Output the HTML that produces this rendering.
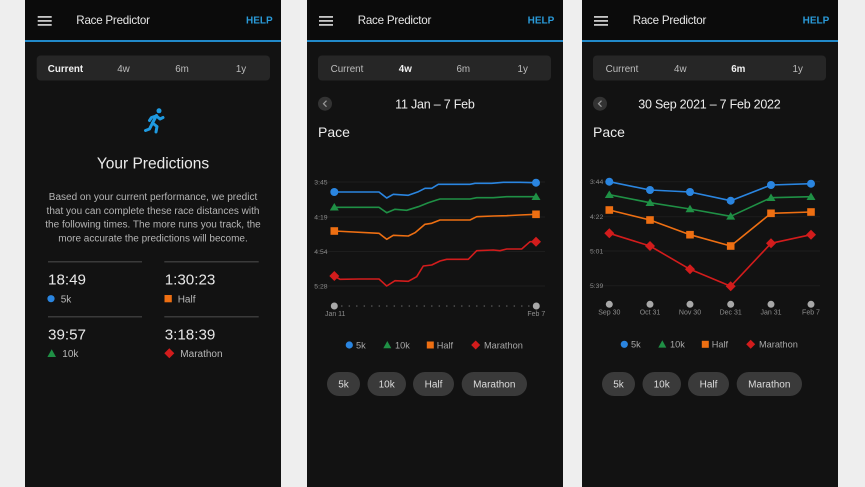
<!DOCTYPE html>
<html><head><meta charset="utf-8"><style>
html,body{margin:0;padding:0;background:#eeeeee;}
svg{display:block;font-family:"Liberation Sans",sans-serif;}
</style></head><body>
<svg width="865" height="487" viewBox="0 0 865 487" xmlns="http://www.w3.org/2000/svg">
<rect width="865" height="487" fill="#eeeeee"/>

<!-- ============ PHONE 1 ============ -->
<rect x="25" y="0" width="256" height="487" fill="#121212"/>
<rect x="25" y="0" width="256" height="40" fill="#0b0b0b"/>
<rect x="25" y="40" width="256" height="2" fill="#2189c9"/>
<g fill="#c8c8c8"><rect x="37.7" y="16" width="14" height="1.8"/><rect x="37.7" y="20" width="14" height="1.8"/><rect x="37.7" y="24" width="14" height="1.8"/></g>
<text x="76.3" y="24" font-size="11.6" fill="#e6e6e6" textLength="73.7">Race Predictor</text>
<text x="272.7" y="23.5" font-size="10" font-weight="bold" fill="#2a9ad8" text-anchor="end">HELP</text>
<rect x="36.7" y="55.5" width="233.3" height="25" rx="4" fill="#262626"/>
<g font-size="9.8" text-anchor="middle" fill="#bdbdbd">
<text x="65.5" y="72" font-weight="bold" fill="#f0f0f0">Current</text>
<text x="123.5" y="72">4w</text><text x="182" y="72">6m</text><text x="241" y="72">1y</text></g>
<!-- runner -->
<g stroke="#1f9ae0" stroke-width="3" stroke-linecap="round" stroke-linejoin="round" fill="none">
<line x1="156.5" y1="115.5" x2="152.5" y2="123"/>
<polyline points="156,116 151.5,117.5 149.5,120.5"/>
<polyline points="156.5,116 160,119 163,117.5"/>
<polyline points="152.5,123 157,126.5 156,132"/>
<polyline points="152.5,123 149.5,129 145.5,130.5"/>
</g>
<circle cx="159" cy="110.8" r="2.5" fill="#1f9ae0"/>
<text x="153" y="168.5" font-size="15.5" fill="#ececec" text-anchor="middle">Your Predictions</text>
<g font-size="10" fill="#b5b5b5" text-anchor="middle">
<text x="153" y="200">Based on your current performance, we predict</text>
<text x="153" y="214">that you can complete these race distances with</text>
<text x="153" y="227.5">the following times. The more runs you track, the</text>
<text x="153" y="241.5">more accurate the predictions will become.</text></g>
<g fill="#3a3a3a"><rect x="48" y="261" width="94" height="1.5"/><rect x="164.3" y="261" width="94.4" height="1.5"/>
<rect x="48" y="316" width="94" height="1.5"/><rect x="164.3" y="316" width="94.4" height="1.5"/></g>
<g font-size="15.2" fill="#e8e8e8">
<text x="48" y="284.5">18:49</text><text x="164.7" y="284.5">1:30:23</text>
<text x="48" y="339.5">39:57</text><text x="164.7" y="339.5">3:18:39</text></g>
<g font-size="10" fill="#b8b8b8">
<text x="60.7" y="302.3">5k</text><text x="177.7" y="302.3">Half</text>
<text x="62.3" y="357">10k</text><text x="180.3" y="357">Marathon</text></g>
<circle cx="51" cy="298.7" r="3.6" fill="#2a85e0"/>
<rect x="164.5" y="295" width="7.3" height="7.3" fill="#ee6f12"/>
<polygon points="51.7,349.3 56,357 47.4,357" fill="#1f9045"/>
<polygon points="169.3,348.3 174.3,353.3 169.3,358.3 164.3,353.3" fill="#d21c1c"/>

<!-- ============ PHONE 2 ============ -->
<rect x="307" y="0" width="256" height="487" fill="#121212"/>
<rect x="307" y="0" width="256" height="40" fill="#0b0b0b"/>
<rect x="307" y="40" width="256" height="2" fill="#2189c9"/>
<g fill="#c8c8c8"><rect x="319" y="16" width="14" height="1.8"/><rect x="319" y="20" width="14" height="1.8"/><rect x="319" y="24" width="14" height="1.8"/></g>
<text x="357.7" y="24" font-size="11.6" fill="#e6e6e6" textLength="73.7">Race Predictor</text>
<text x="554.3" y="23.5" font-size="10" font-weight="bold" fill="#2a9ad8" text-anchor="end">HELP</text>
<rect x="318" y="55.5" width="233" height="25" rx="4" fill="#262626"/>
<g font-size="9.8" text-anchor="middle" fill="#bdbdbd">
<text x="347" y="72">Current</text>
<text x="405.3" y="72" font-weight="bold" fill="#f0f0f0">4w</text><text x="463.3" y="72">6m</text><text x="522.7" y="72">1y</text></g>
<circle cx="325" cy="103.7" r="7" fill="#333"/>
<polyline points="326.5,100.7 323.5,103.7 326.5,106.7" fill="none" stroke="#999" stroke-width="1.2"/>
<text x="435" y="108.3" font-size="12.5" fill="#ececec" text-anchor="middle" textLength="79.7">11 Jan – 7 Feb</text>
<text x="318" y="137" font-size="14" fill="#ececec">Pace</text>
<g stroke="#1d1d1d" stroke-width="1"><line x1="314" y1="182" x2="545" y2="182"/><line x1="314" y1="217" x2="545" y2="217"/><line x1="314" y1="251.5" x2="545" y2="251.5"/><line x1="314" y1="286" x2="545" y2="286"/></g>
<g font-size="6.8" fill="#8a8a8a">
<text x="314.3" y="184.5">3:45</text><text x="314.3" y="219.5">4:19</text><text x="314.3" y="254">4:54</text><text x="314.3" y="288.5">5:28</text></g>
<g fill="none" stroke-width="1.6" stroke-linejoin="round">
<polyline stroke="#2a85e0" points="334.3,192 379,192 386.7,198 393.3,194.3 408.3,195.3 418.3,191.7 425,188.3 431.7,188.3 438.3,184.3 470,184.3 475,183.3 491.7,183.3 503.3,182.3 520,182.3 536,182.7"/>
<polyline stroke="#1f9045" points="334.3,207.3 379,207.3 386.7,212.7 395,209.3 406.7,210.3 418.3,206.7 428.3,202.7 436.7,200 440,199 470,199 476.7,197.7 493.3,197.7 506.7,196.7 520,196.7 536,196.7"/>
<polyline stroke="#ee6f12" points="334.3,231 379,233.3 386.7,239.3 393.3,235.3 408.3,236 415,232.7 425,224.3 431.7,223.3 440,220 470,220 476.7,216.7 493.3,216 506.7,215.7 520,215 536,214.3"/>
<polyline stroke="#d21c1c" points="334.3,276 340,279.3 360,279 379,279 386.7,286 395,280.7 408.3,281.3 416.7,276.7 423.3,266 431.7,265 440,261 446.7,259.3 468.3,259.3 476.7,250.7 493.3,250 500,250.7 506.7,249 521.7,249 530,241.7 536,241.7"/>
</g>
<circle cx="334.3" cy="192" r="4" fill="#2a85e0"/><circle cx="536" cy="182.7" r="4" fill="#2a85e0"/>
<polygon points="334.3,203 338.8,210.5 329.8,210.5" fill="#1f9045"/><polygon points="536,192.5 540.5,200 531.5,200" fill="#1f9045"/>
<rect x="330.5" y="227.2" width="7.6" height="7.6" fill="#ee6f12"/><rect x="532.2" y="210.5" width="7.6" height="7.6" fill="#ee6f12"/>
<polygon points="334.3,271 339.3,276 334.3,281 329.3,276" fill="#d21c1c"/><polygon points="536,236.7 541,241.7 536,246.7 531,241.7" fill="#d21c1c"/>
<!-- x axis -->
<g fill="#5a5a5a">
<circle cx="341.8" cy="306" r="0.8"/><circle cx="349.3" cy="306" r="0.8"/><circle cx="356.8" cy="306" r="0.8"/><circle cx="364.3" cy="306" r="0.8"/><circle cx="371.8" cy="306" r="0.8"/><circle cx="379.3" cy="306" r="0.8"/><circle cx="386.8" cy="306" r="0.8"/><circle cx="394.3" cy="306" r="0.8"/><circle cx="401.8" cy="306" r="0.8"/><circle cx="409.3" cy="306" r="0.8"/><circle cx="416.8" cy="306" r="0.8"/><circle cx="424.3" cy="306" r="0.8"/><circle cx="431.8" cy="306" r="0.8"/><circle cx="439.3" cy="306" r="0.8"/><circle cx="446.8" cy="306" r="0.8"/><circle cx="454.3" cy="306" r="0.8"/><circle cx="461.8" cy="306" r="0.8"/><circle cx="469.3" cy="306" r="0.8"/><circle cx="476.8" cy="306" r="0.8"/><circle cx="484.3" cy="306" r="0.8"/><circle cx="491.8" cy="306" r="0.8"/><circle cx="499.3" cy="306" r="0.8"/><circle cx="506.8" cy="306" r="0.8"/><circle cx="514.3" cy="306" r="0.8"/><circle cx="521.8" cy="306" r="0.8"/><circle cx="528.8" cy="306" r="0.8"/></g>
<circle cx="334.3" cy="306" r="3.5" fill="#a8a8a8"/><circle cx="536.3" cy="306" r="3.5" fill="#a8a8a8"/>
<g font-size="7" fill="#8c8c8c" text-anchor="middle"><text x="335.2" y="315.8">Jan 11</text><text x="536.3" y="315.8">Feb 7</text></g>
<!-- legend -->
<circle cx="349.3" cy="345" r="3.6" fill="#2a85e0"/>
<polygon points="387.3,341 391.3,348.3 383.3,348.3" fill="#1f9045"/>
<rect x="426.8" y="341.5" width="7" height="7" fill="#ee6f12"/>
<polygon points="475.7,340.5 480.2,345 475.7,349.5 471.2,345" fill="#d21c1c"/>
<g font-size="9.2" fill="#a8a8a8"><text x="356" y="348.3">5k</text><text x="395" y="348.3">10k</text><text x="436.7" y="348.3">Half</text><text x="484" y="348.3">Marathon</text></g>
<!-- buttons -->
<g fill="#3a3a3a"><rect x="327" y="372" width="33" height="24" rx="12"/><rect x="367.5" y="372" width="38.5" height="24" rx="12"/><rect x="413" y="372" width="41" height="24" rx="12"/><rect x="461.7" y="372" width="65.3" height="24" rx="12"/></g>
<g font-size="10" fill="#dcdcdc" text-anchor="middle"><text x="343.5" y="387.5">5k</text><text x="386.7" y="387.5">10k</text><text x="433.5" y="387.5">Half</text><text x="494.3" y="387.5">Marathon</text></g>

<!-- ============ PHONE 3 ============ -->
<rect x="582" y="0" width="256" height="487" fill="#121212"/>
<rect x="582" y="0" width="256" height="40" fill="#0b0b0b"/>
<rect x="582" y="40" width="256" height="2" fill="#2189c9"/>
<g fill="#c8c8c8"><rect x="594" y="16" width="14" height="1.8"/><rect x="594" y="20" width="14" height="1.8"/><rect x="594" y="24" width="14" height="1.8"/></g>
<text x="632.7" y="24" font-size="11.6" fill="#e6e6e6" textLength="73.7">Race Predictor</text>
<text x="829.3" y="23.5" font-size="10" font-weight="bold" fill="#2a9ad8" text-anchor="end">HELP</text>
<rect x="593" y="55.5" width="233" height="25" rx="4" fill="#262626"/>
<g font-size="9.8" text-anchor="middle" fill="#bdbdbd">
<text x="622" y="72">Current</text>
<text x="680.3" y="72">4w</text><text x="738.3" y="72" font-weight="bold" fill="#f0f0f0">6m</text><text x="797.7" y="72">1y</text></g>
<circle cx="600" cy="103.7" r="7" fill="#333"/>
<polyline points="601.5,100.7 598.5,103.7 601.5,106.7" fill="none" stroke="#999" stroke-width="1.2"/>
<text x="709.5" y="108.3" font-size="12.5" fill="#ececec" text-anchor="middle" textLength="142.4">30 Sep 2021 – 7 Feb 2022</text>
<text x="593" y="137" font-size="14" fill="#ececec">Pace</text>
<g stroke="#1d1d1d" stroke-width="1"><line x1="589" y1="181.7" x2="820" y2="181.7"/><line x1="589" y1="216.7" x2="820" y2="216.7"/><line x1="589" y1="251" x2="820" y2="251"/><line x1="589" y1="285.7" x2="820" y2="285.7"/></g>
<g font-size="6.8" fill="#8a8a8a">
<text x="590" y="184.2">3:44</text><text x="590" y="219.2">4:22</text><text x="590" y="253.5">5:01</text><text x="590" y="288.2">5:39</text></g>
<g fill="none" stroke-width="1.6" stroke-linejoin="round">
<polyline stroke="#2a85e0" points="609.3,181.7 650,190 690,192 730.7,200.7 771,185 811,183.7"/>
<polyline stroke="#1f9045" points="609.3,194.7 650,202.7 690,209 730.7,216.3 771,197.7 811,196.7"/>
<polyline stroke="#ee6f12" points="609.3,210 650,220 690,234.7 730.7,246 771,213.3 811,212"/>
<polyline stroke="#d21c1c" points="609.3,233.3 650,246 690,269.3 730.7,286.3 771,243.3 811,234.7"/>
</g>
<g fill="#2a85e0"><circle cx="609.3" cy="181.7" r="4"/><circle cx="650" cy="190" r="4"/><circle cx="690" cy="192" r="4"/><circle cx="730.7" cy="200.7" r="4"/><circle cx="771" cy="185" r="4"/><circle cx="811" cy="183.7" r="4"/></g>
<g fill="#1f9045">
<polygon points="609.3,190.5 613.8,198 604.8,198"/><polygon points="650,198.5 654.5,206 645.5,206"/><polygon points="690,204.8 694.5,212.3 685.5,212.3"/><polygon points="730.7,212.1 735.2,219.6 726.2,219.6"/><polygon points="771,193.5 775.5,201 766.5,201"/><polygon points="811,192.5 815.5,200 806.5,200"/></g>
<g fill="#ee6f12">
<rect x="605.5" y="206.2" width="7.6" height="7.6"/><rect x="646.2" y="216.2" width="7.6" height="7.6"/><rect x="686.2" y="230.9" width="7.6" height="7.6"/><rect x="726.9" y="242.2" width="7.6" height="7.6"/><rect x="767.2" y="209.5" width="7.6" height="7.6"/><rect x="807.2" y="208.2" width="7.6" height="7.6"/></g>
<g fill="#d21c1c">
<polygon points="609.3,228.3 614.3,233.3 609.3,238.3 604.3,233.3"/><polygon points="650,241 655,246 650,251 645,246"/><polygon points="690,264.3 695,269.3 690,274.3 685,269.3"/><polygon points="730.7,281.3 735.7,286.3 730.7,291.3 725.7,286.3"/><polygon points="771,238.3 776,243.3 771,248.3 766,243.3"/><polygon points="811,229.7 816,234.7 811,239.7 806,234.7"/></g>
<g fill="#a8a8a8"><circle cx="609.3" cy="304.3" r="3.5"/><circle cx="650" cy="304.3" r="3.5"/><circle cx="690" cy="304.3" r="3.5"/><circle cx="730.7" cy="304.3" r="3.5"/><circle cx="771" cy="304.3" r="3.5"/><circle cx="811" cy="304.3" r="3.5"/></g>
<g font-size="7" fill="#8c8c8c" text-anchor="middle"><text x="609.3" y="314.3">Sep 30</text><text x="650" y="314.3">Oct 31</text><text x="690" y="314.3">Nov 30</text><text x="730.7" y="314.3">Dec 31</text><text x="771" y="314.3">Jan 31</text><text x="811" y="314.3">Feb 7</text></g>
<!-- legend -->
<circle cx="624.3" cy="344.3" r="3.6" fill="#2a85e0"/>
<polygon points="662.3,340.3 666.3,347.6 658.3,347.6" fill="#1f9045"/>
<rect x="701.8" y="340.8" width="7" height="7" fill="#ee6f12"/>
<polygon points="750.7,339.8 755.2,344.3 750.7,348.8 746.2,344.3" fill="#d21c1c"/>
<g font-size="9.2" fill="#a8a8a8"><text x="631" y="347.6">5k</text><text x="670" y="347.6">10k</text><text x="711.7" y="347.6">Half</text><text x="759" y="347.6">Marathon</text></g>
<g fill="#3a3a3a"><rect x="602" y="372" width="33" height="24" rx="12"/><rect x="642.5" y="372" width="38.5" height="24" rx="12"/><rect x="688" y="372" width="41" height="24" rx="12"/><rect x="736.7" y="372" width="65.3" height="24" rx="12"/></g>
<g font-size="10" fill="#dcdcdc" text-anchor="middle"><text x="618.5" y="387.5">5k</text><text x="661.7" y="387.5">10k</text><text x="708.5" y="387.5">Half</text><text x="769.3" y="387.5">Marathon</text></g>
</svg>
</body></html>
